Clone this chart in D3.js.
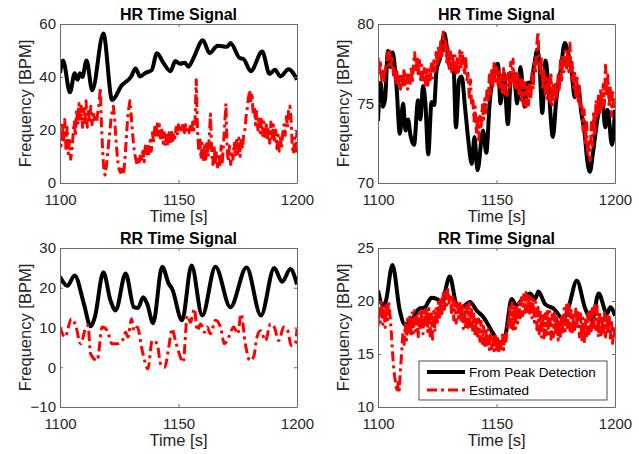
<!DOCTYPE html>
<html><head><meta charset="utf-8">
<script src="https://cdn.jsdelivr.net/npm/d3@7"></script>
<style>
body{margin:0;background:#fff;}
text{font-family:"Liberation Sans",Arial,Helvetica,sans-serif;}
</style>
</head><body>
<svg id="chart" width="639" height="454"></svg>
<script>
// ---------- shared ----------
const xTicks = [1100, 1150, 1200];
const titles = ["HR Time Signal", "HR Time Signal", "RR Time Signal", "RR Time Signal"];
const legendLabels = ["From Peak Detection", "Estimated"];
const estTime = d3.range(0, 201).map(i => 1100 + i * 0.5); // sample times of estimated signals

// ---------- panel A (top-left, HR) ----------
const aYTicks = [0, 20, 40, 60];
const aPeakT = [1100,1101.3,1104.2,1106.2,1107.4,1108.4,1109.4,1111.2,1113.6,1118.3,1122,1126,1130,1131.9,1133.8,1136,1138.7,1140.9,1143.5,1146.6,1148.7,1150.6,1152.7,1154.2,1156.3,1160.3,1163.1,1166.5,1170.5,1171.9,1175.9,1177.4,1180.5,1185.3,1188.4,1190.7,1193,1196.4,1200];
const aPeakV = [41.5,46.2,34.2,41.4,39,41.4,40,46.2,35,56.4,31.3,36.8,40.1,43.2,40.2,41.5,42.6,49,45.5,42.2,46,45,45.4,43.9,47.1,53.9,49,51.8,51.4,52.8,47.1,46.8,42.2,49.6,41.2,42.7,40.2,42.9,39];
const aEstV = [
 20,14,23,15,24,13,21,11,16,9,
 12,18,23,18,28,22,30,23,29,21,
 28,22,31,21,27,23,29,22,27,24,
 26,23,27,30,36,22,12,5,3,6,
 10,15,19,24,27,29,25,18,12,7,
 5,4,6,3,5,10,17,24,28,31,
 26,20,15,11,9,7,10,8,11,9,
 12,8,14,10,15,11,16,12,19,15,
 21,17,23,18,22,16,20,15,19,14,
 18,14,19,15,20,16,19,17,21,18,
 22,19,22,20,23,19,22,20,21,19,
 22,19,23,20,24,39,20,13,17,9,
 15,8,14,9,16,10,18,26,12,7,
 14,7,12,6,11,7,14,8,15,22,
 30,13,8,14,7,12,9,15,10,16,
 11,17,10,16,13,18,20,25,28,32,
 35,31,34,26,29,22,27,20,25,19,
 24,18,23,17,22,16,21,15,23,17,
 22,15,20,13,18,12,17,13,19,22,
 18,25,21,28,29,24,14,11,17,12,
 20];

// ---------- panel B (top-right, HR) ----------
const bYTicks = [70, 75, 80];
const bPeakT = [1100,1101.1,1102.1,1103,1104.2,1105.3,1106.1,1107.8,1109.2,1110.6,
 1111.6,1112.7,1113.7,1115.2,1116.9,1117.9,1119,1120,1121.2,1122.6,
 1123.7,1124.7,1126.1,1128,1129,1130.4,1131.8,1132.9,1134.2,1135.3,
 1136.7,1138.1,1139.6,1140.7,1142,1144.3,1145.7,1147.1,1149.2,1150.6,
 1151.7,1153.1,1154.8,1156.2,1157.6,1158.7,1160.1,1161.8,1163.2,1164.4,
 1166,1167.2,1168.2,1169.3,1170.7,1172,1173.8,1175.2,1177.1,1178.8,
 1180.2,1181.6,1183,1184.4,1185.8,1187.2,1188.3,1189.4,1190.7,1192.1,
 1193.5,1194.6,1195.9,1196.9,1198.7,1200];
const bPeakV = [73.9,76.3,74.8,75.3,78.3,77.3,78.2,76.1,73.1,75.0,
 73.3,74.0,73.0,72.4,75.2,74.0,76.1,75.0,71.8,75.1,
 74.9,77.1,77.8,79.4,78.6,77.3,77.5,73.5,76.5,76.7,
 74.8,72.7,71.2,72.9,70.8,73.3,71.9,75.0,77.1,77.5,
 75.0,76.9,73.7,76.9,76.5,75.0,77.3,74.8,76.3,76.3,
 77.5,78.4,77.3,74.4,77.7,75.9,72.9,75.2,77.1,78.8,
 78.2,77.1,75.4,76.1,74.4,73.1,71.4,70.7,71.9,73.5,
 74.8,75.2,73.5,74.6,72.4,74.6];
const bEstV = [
 77.9,76.8,77.7,76.5,77.2,76.3,77.0,77.6,78.2,77.4,
 78.3,77.4,78.0,76.8,77.3,76.2,77.0,76.1,76.9,75.9,
 76.8,76.0,77.2,76.2,77.0,75.9,76.8,76.1,77.3,76.3,
 77.6,78.2,77.0,77.9,76.8,77.7,76.5,77.4,76.3,77.2,
 76.2,77.3,76.0,77.1,76.5,77.6,76.6,77.8,77.0,78.2,
 77.3,78.6,77.7,79.0,78.0,79.5,78.3,79.1,77.6,78.7,
 77.2,78.4,77.0,78.2,76.9,78.0,76.8,77.9,77.0,78.3,
 77.2,78.3,77.4,76.8,78.0,76.5,76.9,75.4,76.5,74.9,
 75.4,73.9,74.8,73.1,74.3,72.7,74.2,73.4,74.9,74.0,
 75.3,74.4,76.0,75.2,76.8,75.6,77.2,76.1,77.6,76.4,
 77.3,76.1,77.0,75.9,76.8,75.7,77.2,75.6,76.8,75.5,
 76.9,76.0,77.6,76.4,77.8,75.9,77.1,75.8,76.8,75.6,
 76.6,75.2,76.5,74.9,76.3,74.8,76.0,74.9,76.2,75.3,
 76.9,75.9,77.6,76.9,78.7,79.5,77.8,76.8,77.8,75.9,
 77.2,75.6,76.6,75.3,76.7,75.1,76.8,74.9,76.3,75.2,
 76.4,75.4,76.8,75.9,77.7,76.3,78.1,77.0,78.3,77.1,
 78.4,77.0,78.8,76.6,77.6,76.0,76.9,75.4,76.6,75.0,
 76.1,74.6,75.0,73.3,74.6,72.4,73.9,71.7,72.6,71.4,
 73.8,72.3,74.5,73.0,75.2,74.1,75.6,74.3,76.0,74.6,
 76.2,74.9,77.4,75.6,76.8,74.8,76.1,74.2,75.9,74.6,
 75.3];

// ---------- panel C (bottom-left, RR) ----------
const cYTicks = [-10, 0, 10, 20, 30];
const cPeakT = [1100,1103.1,1106.2,1110.1,1112.9,1114.7,1118.3,1121.3,1123.5,1127.7,1131.2,1132.9,1135.1,1136.8,1139.3,1143.1,1145.9,1147.3,1151.5,1155.5,1160,1165.6,1171.9,1178.7,1184.8,1190.4,1193.7,1197.2,1200];
const cPeakV = [22.8,20.5,23.1,15.9,10.3,12.6,23.9,16.8,14.3,23.6,15.1,14.9,17.6,15.9,11.1,25.3,21,19.7,11.8,25.6,13,25.3,15.1,25.1,13,25,21.5,24.7,20.8];
const cEstT = [1100,1102.1,1104.8,1106.6,1108.7,1110.5,1111.8,1112.9,1115.7,1117.8,
 1119.9,1122,1124.2,1126.3,1127.7,1128.7,1130.2,1131.2,1132.6,1134.7,
 1137.1,1138.9,1141,1142.4,1144.2,1145.9,1147.3,1148.7,1150.1,1152,
 1153.7,1155.1,1156.7,1157.9,1159.3,1161,1162.1,1163.5,1165.6,1167.7,
 1169.4,1171.2,1173.3,1175,1176.4,1178.2,1180.1,1181.7,1183.1,1184.6,
 1186.7,1188.8,1190.4,1192.3,1194.4,1196.1,1197.5,1199.3,1200];
const cEstV = [10.1,7.6,12.2,10.5,5.9,9.2,10.5,3.4,1.7,10.1,
 9.2,5.9,5.9,6.7,8.8,7.6,12.2,9.2,10.1,4.2,
 -0.4,6.7,5.9,0.9,0,5.1,9.7,6.7,3.8,1.3,
 13,11.3,14.7,9.2,10.9,8.8,10.1,8.4,11.8,10.1,
 5.9,7.6,10.1,8.4,13.4,5.9,1.7,2.6,7.6,9.2,
 6.7,10.9,10.1,6.7,10.1,9.2,5.5,5.9,9.7];

// ---------- panel D (bottom-right, RR) ----------
const dYTicks = [10, 15, 20, 25];
const dPeakT = [1100,1102.1,1103.2,1106.1,1109.2,1111.3,1114.1,1117.6,1119.7,1122.6,
 1124.7,1126.8,1130.3,1133.1,1135.3,1138.8,1141.6,1144.4,1148.7,1151.5,
 1153.6,1156.4,1158.3,1161.4,1164.2,1166.3,1167.7,1170.5,1174,1178.3,
 1180.4,1183.9,1187.4,1190.3,1193.1,1196.6,1198,1200];
const dPeakV = [21,19.6,19.9,23.4,19.1,17.8,18.2,19.3,19.4,20.3,
 20.2,19.9,22.3,19.7,19.4,19.9,19.1,18.5,16.9,16,
 16.6,20.2,19.6,20.3,20.7,20.2,20.9,19.7,19.3,18.3,
 19.4,21.9,19.3,18.2,20.7,18.8,19.4,18.6];
const dEstV = [
 17.6,19.5,18.0,19.9,17.8,19.6,17.5,19.8,18.2,20.0,
 18.9,17.4,15.6,14.0,12.9,12.2,11.4,12.3,11.6,13.6,
 15.2,17.0,15.9,17.8,16.3,18.3,16.8,18.7,16.6,18.9,
 17.0,19.1,17.2,18.6,16.5,18.9,17.3,19.3,16.9,19.0,
 17.5,19.4,17.1,19.3,16.7,18.8,16.4,19.0,17.1,19.4,
 17.8,19.9,18.3,20.4,18.8,20.7,19.2,21.0,19.6,21.1,
 19.8,20.6,18.9,20.4,18.2,20.0,17.9,19.7,18.4,20.0,
 18.0,19.8,17.4,19.5,17.3,19.6,17.5,19.8,17.4,19.2,
 17.0,18.8,16.6,18.5,16.7,18.3,16.2,18.1,16.0,17.6,
 15.8,17.5,15.6,17.3,15.4,17.0,15.5,16.8,15.3,16.7,
 15.4,16.6,15.3,16.5,15.5,16.8,15.4,17.0,16.2,17.6,
 17.4,19.6,17.5,19.8,17.2,19.5,17.4,19.7,17.9,19.8,
 18.4,20.3,18.6,20.6,18.9,20.8,19.0,20.7,18.6,20.3,
 18.4,20.2,18.0,19.9,17.3,19.4,16.9,19.1,16.6,18.9,
 16.5,18.8,16.8,19.2,16.9,19.0,16.4,18.7,16.6,19.0,
 16.8,18.6,16.3,18.2,16.5,18.7,16.9,19.3,17.2,19.6,
 17.5,19.7,17.2,19.1,16.8,18.9,17.3,19.4,17.6,18.9,
 16.6,18.8,16.2,18.4,16.0,18.2,16.5,18.8,16.9,19.0,
 17.2,19.3,17.5,19.6,17.3,19.5,16.6,18.9,16.8,18.6,
 16.7,18.9,16.6,18.5,16.9,18.8,16.5,18.2,16.0,17.7,
 16.2];

// ---------- drawing ----------
const svg = d3.select("#chart");
const cols = [60, 378], rows = [24, 248];
const PW = 237, PH = 159;
const axisColor = "#262626";
const boxColor = "#6b6b6b";

const panels = [
  {col:0,row:0,title:titles[0],yDomain:[0,60],yTicks:aYTicks,peakT:aPeakT,peakV:aPeakV,estT:estTime,estV:aEstV,smoothEst:false},
  {col:1,row:0,title:titles[1],yDomain:[70,80],yTicks:bYTicks,peakT:bPeakT,peakV:bPeakV,estT:estTime,estV:bEstV,smoothEst:false},
  {col:0,row:1,title:titles[2],yDomain:[-10,30],yTicks:cYTicks,peakT:cPeakT,peakV:cPeakV,estT:cEstT,estV:cEstV,smoothEst:true},
  {col:1,row:1,title:titles[3],yDomain:[10,25],yTicks:dYTicks,peakT:dPeakT,peakV:dPeakV,estT:estTime,estV:dEstV,smoothEst:false,legend:true}
];

panels.forEach((p, i) => {
  const left = cols[p.col], top = rows[p.row];
  const g = svg.append("g").attr("transform", `translate(${left},${top})`);
  const x = d3.scaleLinear().domain([1100, 1200]).range([0, PW]);
  const y = d3.scaleLinear().domain(p.yDomain).range([PH, 0]);

  g.append("rect").attr("width", PW).attr("height", PH).attr("fill", "#fff");

  const clipId = "clip" + i;
  g.append("clipPath").attr("id", clipId).append("rect").attr("width", PW).attr("height", PH);

  const estData = p.estT.map((t, k) => [t, p.estV[k]]);
  const peakData = p.peakT.map((t, k) => [t, p.peakV[k]]);
  const lineEst = d3.line().x(d => x(d[0])).y(d => y(d[1]))
      .curve(p.smoothEst ? d3.curveMonotoneX : d3.curveLinear);
  const linePeak = d3.line().x(d => x(d[0])).y(d => y(d[1])).curve(d3.curveMonotoneX);

  const plot = g.append("g").attr("clip-path", `url(#${clipId})`);
  plot.append("path").datum(peakData).attr("d", linePeak)
    .attr("fill", "none").attr("stroke", "#000").attr("stroke-width", 4)
    .attr("stroke-linejoin", "round");
  plot.append("path").datum(estData).attr("d", lineEst)
    .attr("fill", "none").attr("stroke", "#ff0000").attr("stroke-width", 3)
    .attr("stroke-dasharray", "10,4,3,4").attr("stroke-linejoin", "round");

  const styleAxis = sel => {
    sel.select(".domain").attr("stroke", boxColor).attr("stroke-width", 1);
    sel.selectAll(".tick line").attr("stroke", boxColor);
    sel.selectAll("text").attr("fill", axisColor).style("font-size", "15px")
      .style("font-family", '"Liberation Sans",Arial,sans-serif');
  };
  g.append("g").attr("transform", `translate(0,${PH})`)
    .call(d3.axisBottom(x).tickValues(xTicks).tickFormat(d3.format("d")).tickSize(-3).tickSizeOuter(0).tickPadding(11))
    .call(styleAxis);
  g.append("g")
    .call(d3.axisTop(x).tickValues(xTicks).tickFormat("").tickSize(-3).tickSizeOuter(0))
    .call(styleAxis);
  g.append("g")
    .call(d3.axisLeft(y).tickValues(p.yTicks).tickFormat(d3.format("d")).tickSize(-3).tickSizeOuter(0).tickPadding(4))
    .call(styleAxis);
  g.append("g").attr("transform", `translate(${PW},0)`)
    .call(d3.axisRight(y).tickValues(p.yTicks).tickFormat("").tickSize(-3).tickSizeOuter(0))
    .call(styleAxis);

  g.append("text").attr("x", PW / 2).attr("y", -4).attr("text-anchor", "middle")
    .style("font-size", "16px").style("font-weight", "bold").attr("fill", "#000").text(p.title);
  g.append("text").attr("x", PW / 2).attr("y", PH + 39).attr("text-anchor", "middle")
    .style("font-size", "16.5px").attr("fill", axisColor).text("Time [s]");
  g.append("text").attr("transform", `translate(-29,${PH / 2}) rotate(-90)`).attr("text-anchor", "middle")
    .style("font-size", "16.5px").attr("fill", axisColor).text("Frequency [BPM]");

  if (p.legend) {
    const lg = g.append("g").attr("transform", `translate(${419 - left},${361 - top})`);
    lg.append("rect").attr("width", 188).attr("height", 39).attr("fill", "#fff")
      .attr("stroke", axisColor).attr("stroke-width", 0.8);
    lg.append("line").attr("x1", 8).attr("x2", 46).attr("y1", 11).attr("y2", 11)
      .attr("stroke", "#000").attr("stroke-width", 4);
    lg.append("line").attr("x1", 8).attr("x2", 46).attr("y1", 29).attr("y2", 29)
      .attr("stroke", "#ff0000").attr("stroke-width", 3).attr("stroke-dasharray", "10,4,3,4");
    lg.append("text").attr("x", 50).attr("y", 16).style("font-size", "13.5px").attr("fill", "#000").text(legendLabels[0]);
    lg.append("text").attr("x", 50).attr("y", 34).style("font-size", "13.5px").attr("fill", "#000").text(legendLabels[1]);
  }
});
</script>
</body></html>
